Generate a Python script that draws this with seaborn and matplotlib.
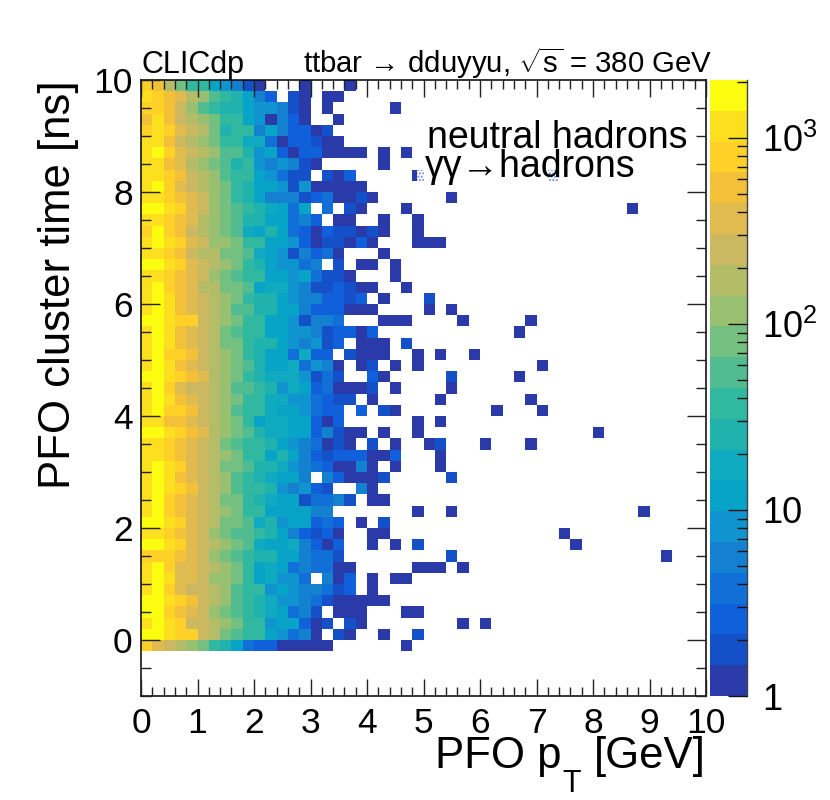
import numpy as np
import pandas as pd
import matplotlib
matplotlib.use("Agg")
import matplotlib.pyplot as plt
from matplotlib.colors import ListedColormap, LogNorm
from matplotlib.patches import Rectangle
import seaborn as sns

sns.set_theme(style="white")
plt.rcParams['font.family'] = ['Liberation Sans', 'DejaVu Sans']
plt.rcParams['mathtext.fontset'] = 'custom'
plt.rcParams['mathtext.rm'] = 'Liberation Sans'
plt.rcParams['mathtext.it'] = 'Liberation Sans'
plt.rcParams['mathtext.default'] = 'regular'
plt.rcParams['axes.axisbelow'] = False
plt.rcParams['text.color'] = 'black'
plt.rcParams['axes.labelcolor'] = 'black'
plt.rcParams['xtick.labelcolor'] = 'black'
plt.rcParams['ytick.labelcolor'] = 'black'

PT_MAX = 10
T_MIN, T_MAX = -1, 10
BIN = 0.2
N_LEVELS = 20
Z_MAX = 2050

# palette, lowest contour first
PALETTE = ['#2a3aa8', '#1450c8', '#1060dc', '#1070d8', '#1480d0',
           '#0f94d0', '#08a4c8', '#10aac0', '#20b2ac', '#30b8a0',
           '#50bc90', '#74c080', '#98c070', '#b4bc68', '#ccb860',
           '#e0bc50', '#f4c038', '#ffd028', '#fce020', '#fcfc10']

# contour level read from each cell: 0-9 then a-j, '.' is an empty bin.
# First string is t = 9.8-10 ns, last is t = -0.2-0 ns; columns start at pT = 0.
LEVEL_ROWS = [
    "hgdb9965410...0...0",
    "ihgfdca98642.10.00",
    "hhgeca988655410.0.....0",
    "gigedcb99650420..0",
    "hihfedb8994642201",
    "iigedcb99773022100",
    "ijhfedcaa85620220000.0.0",
    "iigfdcba89545410.....0",
    "iihgedca9965311.102.....0...........0",
    "ijhfedcb986651500000",
    "iihgfecb9864441230010",
    "jjihfecba987636.3.10...0",
    "iihgfdcba8866342.00..0..0",
    "hjhgedcba7686320211010..0",
    "ijihfeccb996652011020...0",
    "iihgeddbba76514230...0",
    "jjihfedcb9865534.1.00.0",
    "iihgfecba9966563110...0",
    "ijhgfddbba67754112100..0",
    "ijigfedcb98865442212.0",
    "ijigfedcaa88664222000",
    "jjihhedcb996651443...000",
    "ijigfedba996655412202",
    "ijigfedbb988654512.000.1",
    "ijhhgedcb98663722.1000..0",
    "ijigfedcba86673540.01.0.0",
    "jjihgfdcb987775131..20",
    "ijhfeedcaa98576230001.0",
    "ijigfedcb9977553211.0",
    "ijhhgedca997665322.2.10",
    "iiggfedcb967766202......0",
    "jjihgfdcba8776624100.0..0",
    "iihgfedba9986543010.1.0",
    "iihgfedcb99686421222002",
    "ijihfedbba88754320040.0",
    "ijigfedca987664.420001",
    "ijihgedca99854521..40",
    "ijhgfedbb9876613341.00",
    "ijhgfedcb99666644.......0",
    "jjihfedbba78566232.0.1",
    "iihgfecbaa98642120..00",
    "jjihfedcba76674202..0.0.1",
    "hhhgfecba988664331",
    "ijhffedcb9676343300.....0",
    "ijiffeccb967553.402.0.00",
    "ijhfeedca9956544312.0",
    "jjihgedca9875543100000",
    "jjhgfecba9876341.000...00",
    "ijiheedcb99566201.10",
    "jjihhedba9965340.10..0..1",
    "hfedcb98632200000......0",
]

# isolated high-pT bins
HIGH_PT_ROW = [10, 11, 14, 14, 19, 20, 20, 21, 21, 22, 24, 24, 25, 26, 26, 27, 28, 28, 29, 29,
               30, 31, 32, 32, 32, 32, 33, 34, 35, 38, 38, 40, 41, 42, 42, 43, 43, 43, 48, 48]
HIGH_PT_COL = [27, 43, 25, 26, 25, 25, 27, 28, 34, 33, 26, 29, 35, 27, 33, 27, 26, 34, 31, 35,
               26, 40, 25, 26, 30, 34, 26, 26, 27, 27, 44, 37, 38, 27, 46, 25, 26, 28, 28, 30]
HIGH_PT_LVL = [0, 0, 0, 0, 1, 0, 0, 0, 0, 0, 0, 0, 0, 1, 0, 0, 0, 0, 0, 0,
               0, 0, 0, 1, 0, 0, 0, 0, 1, 0, 0, 0, 0, 1, 0, 0, 0, 0, 0, 0]

X_TICKS = list(range(0, 11))
Y_TICKS = [0, 2, 4, 6, 8, 10]
TITLE_LEFT = "CLICdp"
TITLE_RIGHT = r"ttbar → dduyyu, $\sqrt{s}$ = 380 GeV"
LEGEND_1 = "neutral hadrons"
LEGEND_2 = "γγ→hadrons"

nx = int(round(PT_MAX / BIN))
ny = int(round((T_MAX - T_MIN) / BIN))
DIGITS = "0123456789abcdefghij"
grid = np.full((ny, nx), np.nan)
step = np.log10(Z_MAX) / N_LEVELS
for r, s in enumerate(LEVEL_ROWS):
    for c, ch in enumerate(s):
        if ch != '.':
            grid[r, c] = 10 ** ((DIGITS.index(ch) + 0.5) * step)
for r, c, l in zip(HIGH_PT_ROW, HIGH_PT_COL, HIGH_PT_LVL):
    grid[r, c] = 10 ** ((l + 0.5) * step)
df = pd.DataFrame(grid)

W, H = 830, 800
fig = plt.figure(figsize=(W / 100, H / 100), dpi=100, facecolor='white')
ax = fig.add_axes([141 / W, (H - 696) / H, 565 / W, 616 / H])
cax = fig.add_axes([710 / W, (H - 696) / H, 37 / W, 616 / H])

sns.heatmap(df, ax=ax, cbar_ax=cax, cmap=ListedColormap(PALETTE),
            norm=LogNorm(vmin=1, vmax=Z_MAX), xticklabels=False, yticklabels=False,
            linewidths=0, rasterized=True)

to_x = lambda v: np.asarray(v, float) / BIN
to_y = lambda v: (T_MAX - np.asarray(v, float)) / BIN

ax.set_xticks(to_x(X_TICKS))
ax.set_xticklabels([str(v) for v in X_TICKS], fontsize=25.5)
ax.set_xticks(to_x(np.arange(0, 10.01, 0.2)), minor=True)
ax.set_yticks(to_y(Y_TICKS))
ax.set_yticklabels([str(v) for v in Y_TICKS], fontsize=25.5, rotation=0)
ax.set_yticks(to_y(np.arange(-1, 10.01, 0.5)), minor=True)

ax.tick_params(axis='x', which='major', direction='in', length=12.5, width=1, top=True, bottom=True,
               color='#222222', pad=8)
ax.tick_params(axis='x', which='minor', direction='in', length=6.5, width=1, top=True, bottom=True,
               color='#222222')
ax.tick_params(axis='y', which='major', direction='in', length=14, width=1, left=True, right=True,
               color='#222222', pad=6)
ax.tick_params(axis='y', which='minor', direction='in', length=7, width=1, left=True, right=True,
               color='#222222')
for sp in ax.spines.values():
    sp.set_visible(True)
    sp.set_color('black')
    sp.set_linewidth(1.1)

ax.set_ylabel("PFO cluster time [ns]", fontsize=31.5)
ax.yaxis.set_label_coords(-0.110, 0.667)

# x title pieces: the subscript sits lower than mathtext would place it
fig.text(435 / W, (H - 768) / H, "PFO p", fontsize=31.5, ha='left', va='baseline')
fig.text(562 / W, (H - 792) / H, "T", fontsize=22, ha='left', va='baseline')
fig.text(706 / W, (H - 768) / H, "[GeV]", fontsize=31.5, ha='right', va='baseline')

# legend box hatching that overlays two bins
for c, r, frac, wid in [(24, 8, 0.4, 0.6), (36, 8, 0.0, 1.0)]:
    ax.add_patch(Rectangle((c + frac, r), wid, 1, facecolor='white', edgecolor='#6f86d6',
                           hatch='.....', linewidth=0, zorder=3))

ax.text(0, 1.0114, TITLE_LEFT, transform=ax.transAxes, fontsize=22, ha='left', va='baseline')
ax.text(1.0106, 1.0114, TITLE_RIGHT, transform=ax.transAxes, fontsize=21.2, ha='right', va='baseline')
ax.text(427 / W, (H - 148) / H, LEGEND_1, transform=fig.transFigure, fontsize=27, ha='left', va='baseline', zorder=5)
ax.text(425 / W, (H - 177) / H, LEGEND_2, transform=fig.transFigure, fontsize=27, ha='left', va='baseline', zorder=5)

cbar = ax.collections[0].colorbar
cbar.outline.set_visible(False)
cax.set_yscale('log')
cax.set_ylim(1, Z_MAX)
cax.yaxis.set_ticks_position('right')
cax.set_yticks([1, 10, 100, 1000])
cax.set_yticklabels(['1', '10', r'$10^{2}$', r'$10^{3}$'], fontsize=26)
minor = [m * d for d in (1, 10, 100, 1000) for m in range(2, 10) if m * d <= Z_MAX]
cax.set_yticks(minor, minor=True)
cax.set_yticklabels([], minor=True)
cax.tick_params(axis='y', which='major', direction='in', length=14, width=1, color='#111111', right=True, left=False, pad=11)
cax.tick_params(axis='y', which='minor', direction='in', length=7, width=1, color='#111111', right=True, left=False)
for name, sp in cax.spines.items():
    sp.set_visible(name == 'right')
    sp.set_color('#444444')
    sp.set_linewidth(1)

fig.savefig("out.png", dpi=100, facecolor='white')
